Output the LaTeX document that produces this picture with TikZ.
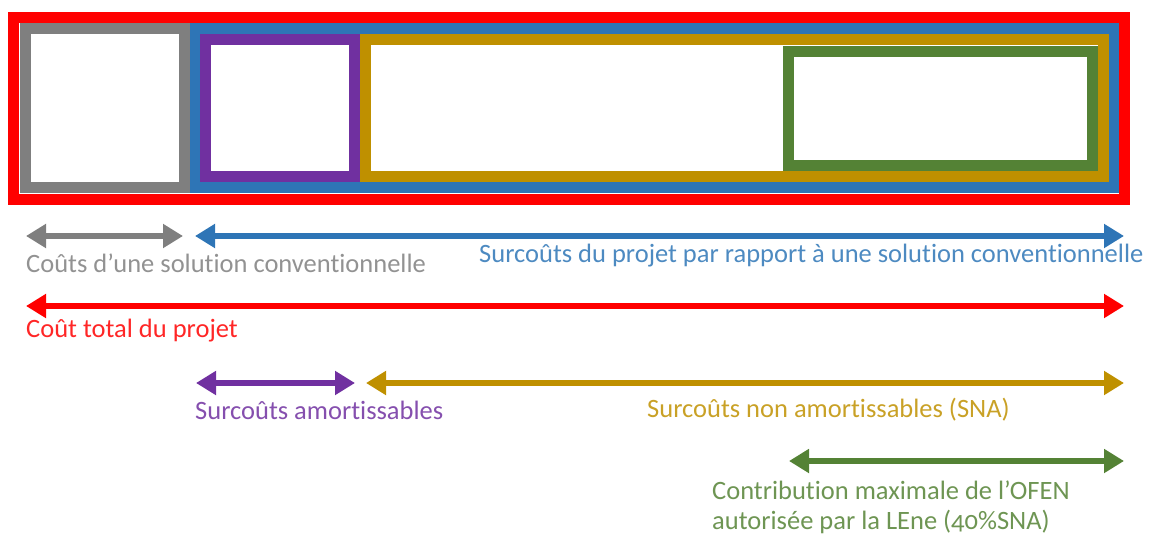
\documentclass[tikz,border=0pt]{standalone}
\usepackage{fontspec}
\setmainfont{Carlito}[Numbers=OldStyle, Ligatures={NoCommon,NoDiscretionary}]
\usetikzlibrary{arrows.meta}
\definecolor{cred}{HTML}{FF0000}
\definecolor{cgray}{HTML}{7F7F7F}
\definecolor{cblue}{HTML}{2E75B6}
\definecolor{cpurple}{HTML}{7030A0}
\definecolor{cgold}{HTML}{BF9000}
\definecolor{cgreen}{HTML}{548235}
\tikzset{
  band/.style={draw=#1, line width=11pt, fill=white},
  span/.style={draw=#1, line width=6pt, {Triangle[length=20pt,width=23pt]}-{Triangle[length=20pt,width=23pt]}},
  lbl/.style={text=#1!85!white, anchor=west, inner sep=0pt, font=\fontsize{26.5}{30}\selectfont, align=left},
}
\begin{document}
\begin{tikzpicture}[x=1pt,y=-1pt]
\useasboundingbox (0,0) rectangle (1158,538);
% nested cost blocks
\draw[band=cred]    (13.5,17.5)  rectangle (1124.5,199.5);
\draw[band=cgray]   (25.5,28.5)  rectangle (184.5,187.5);
\draw[band=cblue]   (195,28.5)   rectangle (1113,187.5);
\draw[band=cpurple] (205.5,39.5) rectangle (354.5,176.5);
\draw[band=cgold]   (365.5,39.5) rectangle (1103,176.5);
\draw[band=cgreen]  (788.5,51)   rectangle (1092.5,165.5);

% span end points
\coordinate (g1) at (26,236);   \coordinate (g2) at (183,236);
\coordinate (b1) at (195,236);  \coordinate (b2) at (1124,236);
\coordinate (r1) at (26,306);   \coordinate (r2) at (1124,306);
\coordinate (p1) at (196,383);  \coordinate (p2) at (355,383);
\coordinate (o1) at (366,383);  \coordinate (o2) at (1124,383);
\coordinate (v1) at (789,461);  \coordinate (v2) at (1124,461);

\draw[span=cgray]   (g1) -- (g2);
\draw[span=cblue]   (b1) -- (b2);
\draw[span=cred]    (r1) -- (r2);
\draw[span=cpurple] (p1) -- (p2);
\draw[span=cgold]   (o1) -- (o2);
\draw[span=cgreen]  (v1) -- (v2);

% labels
\node[lbl=cgray]   (tg) at (26,263)  {Coûts d’une solution conventionnelle};
\node[lbl=cblue]   (tb) at (479,256) {Surcoûts du projet par rapport à une solution conventionnelle};
\node[lbl=cred]    (tr) at (26,331)  {Coût total du projet};
\node[lbl=cpurple] (tp) at (195,410) {Surcoûts amortissables};
\node[lbl=cgold]   (to) at (647,410) {Surcoûts non amortissables (SNA)};
\node[lbl=cgreen]  (tv) at (712,507) {Contribution maximale de l’OFEN\\autorisée par la LEne (40\%SNA)};
\end{tikzpicture}
\end{document}
